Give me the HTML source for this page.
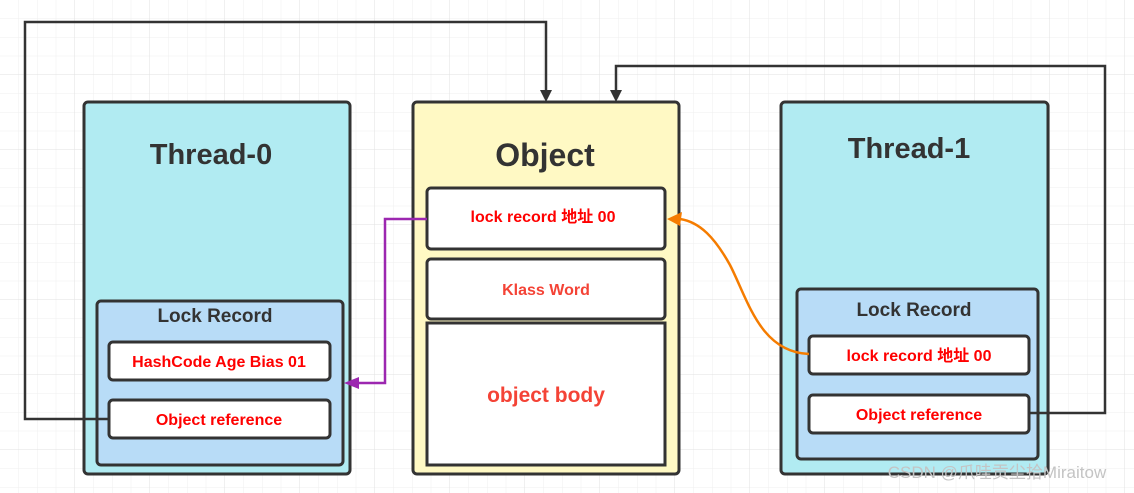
<!DOCTYPE html>
<html><head><meta charset="utf-8"><style>
html,body{margin:0;padding:0;background:#fff;}
svg{display:block;}
text{font-family:"Liberation Sans","Noto Sans CJK SC",sans-serif;font-weight:bold;text-anchor:middle;}
</style></head><body>
<svg width="1134" height="493" xmlns="http://www.w3.org/2000/svg">
<defs>
<pattern id="g" width="18.75" height="18.75" patternUnits="userSpaceOnUse"><path d="M18.75 0V18.75M0 18.75H18.75" stroke="#efefef" stroke-width="1" fill="none"/></pattern>
<pattern id="G" width="75" height="75" patternUnits="userSpaceOnUse"><path d="M75 0V75M0 75H75" stroke="#e2e2e2" stroke-width="1" fill="none"/></pattern>
</defs>
<rect width="1134" height="493" fill="url(#g)"/>
<rect width="1134" height="493" fill="url(#G)"/>

<!-- Thread-0 -->
<rect x="84" y="102" width="266" height="372" rx="4" fill="#b1ebf2" stroke="#333" stroke-width="3"/>
<text x="211" y="164" font-size="29" fill="#333">Thread-0</text>
<rect x="97" y="301" width="246" height="164" rx="4" fill="#b8dcf7" stroke="#333" stroke-width="3"/>
<text x="215" y="322" font-size="19" fill="#333">Lock Record</text>

<!-- Thread-1 -->
<rect x="781" y="102" width="267" height="372" rx="4" fill="#b1ebf2" stroke="#333" stroke-width="3"/>
<text x="909" y="158" font-size="29" fill="#333">Thread-1</text>
<rect x="797" y="289" width="241" height="170" rx="4" fill="#b8dcf7" stroke="#333" stroke-width="3"/>
<text x="914" y="316" font-size="19" fill="#333">Lock Record</text>

<!-- dark connectors -->
<path d="M109 419H25V22H546V96" fill="none" stroke="#333" stroke-width="2.5"/>
<polygon points="540,90 552,90 546,102" fill="#333"/>
<path d="M1029 413H1105V66H616V96" fill="none" stroke="#333" stroke-width="2.5"/>
<polygon points="610,90 622,90 616,102" fill="#333"/>

<rect x="109" y="342" width="221" height="38" rx="4" fill="#fff" stroke="#333" stroke-width="3"/>
<text x="219" y="367" font-size="16" fill="#f00">HashCode Age Bias 01</text>
<rect x="109" y="400" width="221" height="38" rx="4" fill="#fff" stroke="#333" stroke-width="3"/>
<text x="219" y="425" font-size="16" fill="#f00">Object reference</text>

<rect x="809" y="336" width="220" height="38" rx="4" fill="#fff" stroke="#333" stroke-width="3"/>
<text x="919" y="361" font-size="16" fill="#f00">lock record 地址 00</text>
<rect x="809" y="395" width="220" height="38" rx="4" fill="#fff" stroke="#333" stroke-width="3"/>
<text x="919" y="420" font-size="16" fill="#f00">Object reference</text>

<!-- Object -->
<rect x="413" y="102" width="266" height="372" rx="4" fill="#fff9c4" stroke="#333" stroke-width="3"/>
<text x="545" y="166" font-size="32" fill="#333">Object</text>
<rect x="427" y="188" width="238" height="61" rx="4" fill="#fff" stroke="#333" stroke-width="3"/>
<text x="543" y="222" font-size="16" fill="#f00">lock record 地址 00</text>
<rect x="427" y="259" width="238" height="60" rx="4" fill="#fff" stroke="#333" stroke-width="3"/>
<text x="546" y="295" font-size="16" fill="#f44336">Klass Word</text>
<rect x="427" y="323" width="238" height="142" fill="#fff" stroke="#333" stroke-width="3"/>
<text x="546" y="402" font-size="21" fill="#f44336">object body</text>

<!-- purple -->
<path d="M427 219H385V383H356" fill="none" stroke="#9c27b0" stroke-width="2.5"/>
<polygon points="344,383 359,377 359,389" fill="#9c27b0"/>
<!-- orange -->
<path d="M809 354C760 352 748 300 730 265C715 238 700 222 680 219" fill="none" stroke="#f57c00" stroke-width="2.5"/>
<polygon points="667,219 682,212 680,226" fill="#f57c00"/>

<text x="997" y="478" font-size="17" fill="#c4c4c4" style="font-weight:normal">CSDN @爪哇贡尘拾Miraitow</text>
</svg>
</body></html>
